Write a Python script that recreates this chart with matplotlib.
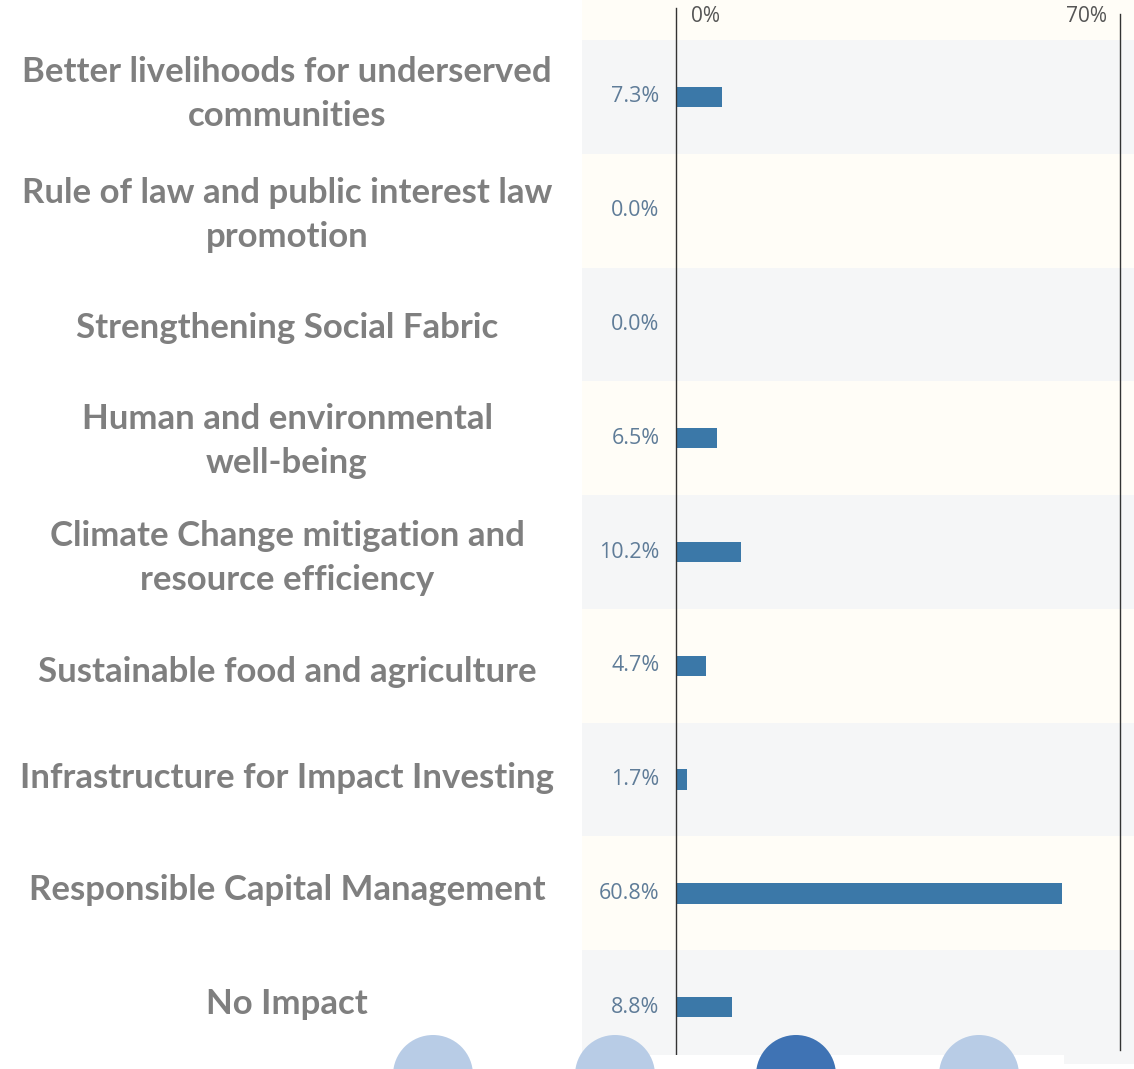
import matplotlib
matplotlib.use("Agg")
import matplotlib.pyplot as plt
from matplotlib.patches import Rectangle, Circle

categories = [
    "Better livelihoods for underserved\ncommunities",
    "Rule of law and public interest law\npromotion",
    "Strengthening Social Fabric",
    "Human and environmental\nwell-being",
    "Climate Change mitigation and\nresource efficiency",
    "Sustainable food and agriculture",
    "Infrastructure for Impact Investing",
    "Responsible Capital Management",
    "No Impact",
]
values = [7.3, 0.0, 0.0, 6.5, 10.2, 4.7, 1.7, 60.8, 8.8]
tick_values = [0, 70]
tick_labels = ["0%", "70%"]

# layout: vertical centre (pixels from top) of each category label
label_y_px = [94, 215, 328, 441, 558, 672, 778, 890, 1004]

W, H = 1134, 1069
fig = plt.figure(figsize=(W / 100, H / 100), dpi=100)
fig.patch.set_facecolor("white")

ax_left, ax_right = 582, 1134
ax_top, ax_bottom = 0, 1064
ax = fig.add_axes([ax_left / W, (H - ax_bottom) / H, (ax_right - ax_left) / W, (ax_bottom - ax_top) / H])
px_per_unit = (1120 - 676) / 70.0
xmin = -(676 - ax_left) / px_per_unit
xmax = 70 + (ax_right - 1120) / px_per_unit
ax.set_xlim(xmin, xmax)
n = len(categories)
pitch = (ax_bottom - 40) / n
header = 40 / pitch
ax.set_ylim(n - 0.5, -0.5 - header)
ax.axis("off")

gray = "#f5f6f7"
cream = "#fffdf7"
ax.add_patch(Rectangle((xmin, -0.5 - header), xmax - xmin, header, facecolor=cream, edgecolor="none", zorder=0))
for i in range(n):
    ax.add_patch(Rectangle((xmin, i - 0.5), xmax - xmin, 1, facecolor=gray if i % 2 == 0 else cream,
                           edgecolor="none", zorder=0))

ax.barh(range(n), values, height=0.18, color="#3b78a8", zorder=2)
for i, v in enumerate(values):
    ax.text(-2.6, i, f"{v:.1f}%", ha="right", va="center", fontsize=15.5, color="#5f7c98",
            family="Open Sans", zorder=3)

ax.plot([0, 0], [n - 0.5 - 9 / pitch, -0.5 - header + 8 / pitch], color="#333333", lw=1.0, zorder=3)
ax.plot([70, 70], [n - 0.5 - 14 / pitch, -0.5 - header + 14 / pitch], color="#333333", lw=1.0, zorder=3)
ax.text(2.4, -0.5 - header / 2 - 0.03, tick_labels[0], ha="left", va="center", fontsize=15,
        color="#555555", family="Open Sans")
ax.text(68.0, -0.5 - header / 2 - 0.03, tick_labels[1], ha="right", va="center", fontsize=15,
        color="#555555", family="Open Sans")

for c, yc in zip(categories, label_y_px):
    fig.text(287 / W, 1 - yc / H, c, ha="center", va="center", fontsize=25, fontweight="bold",
             color="#7f7f7f", family="Lato", linespacing=1.45)

fig.patches.append(Rectangle((380 / W, 0), (1064 - 380) / W, (H - 1055) / H, transform=fig.transFigure,
                             facecolor="white", edgecolor="none", zorder=5))
circle_x = [433, 615, 796, 979]
circle_c = ["#b8cce6", "#b8cce6", "#3f73b4", "#b8cce6"]
for cx, cc in zip(circle_x, circle_c):
    fig.patches.append(Circle((cx, H - 1075), 40, transform=None, facecolor=cc, edgecolor="none", zorder=6))

fig.savefig("out.png", dpi=100, facecolor="white")
